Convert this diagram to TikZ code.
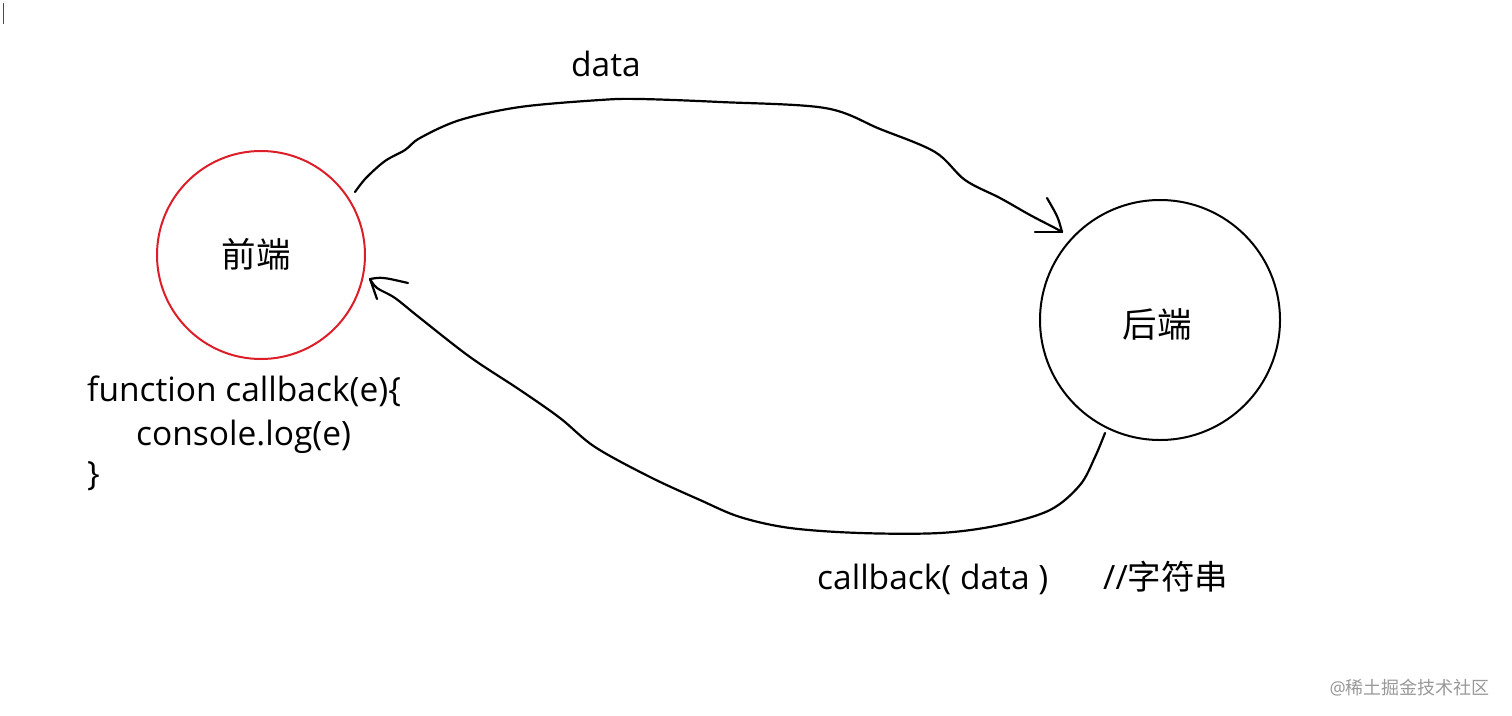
\documentclass[tikz,border=0pt]{standalone}
\usepackage{fontspec}
\setmainfont{Open Sans}
\newfontfamily\cjk{Noto Sans CJK SC}
\begin{document}
\begin{tikzpicture}[x=1pt,y=-1pt,
  stroke/.style={line width=2.2pt,line cap=round,line join=round},
  lbl/.style={inner sep=0pt,font=\fontsize{33.5}{40}\selectfont},
  cn/.style={inner sep=0pt,font=\cjk\fontsize{34.5}{40}\selectfont}]
\useasboundingbox[fill=white] (0,0) rectangle (1512,715);
\definecolor{redc}{RGB}{220,30,40}
% cursor mark
\draw[line width=1pt,black!70] (3,3) -- (3,24);
% nodes
\node[circle,draw=redc,line width=2pt,minimum size=208pt,inner sep=0pt] (fe) at (261,255) {};
\node[cn] (felbl) at (256,254) {前端};
\node[circle,draw=black,line width=2pt,minimum size=240pt,inner sep=0pt] (be) at (1160,320) {};
\node[cn] (belbl) at (1157,324) {后端};
% labels
\node[lbl,anchor=base] (data) at (606,76) {data};
\node[lbl,anchor=base west] (f1) at (87,401) {function callback(e)\{};
\node[lbl,anchor=base west] (f2) at (136,445) {console.log(e)};
\node[lbl,anchor=base west] (f3) at (87,485) {\}};
\node[lbl,anchor=base west] (cb) at (817,589) {callback( data )};
\node[anchor=base west,inner sep=0pt] (cm) at (1103,589) {\fontsize{33.5}{40}\selectfont //\cjk 字符串};
\node[anchor=base east,inner sep=0pt,text=black!40] (wm) at (1490,694) {\fontsize{18}{22}\selectfont @\cjk 稀土掘金技术社区};
% connector endpoints
\coordinate (s1) at (355,192);
\coordinate (e1) at (1062,232);
\coordinate (s2) at (1105,433);
\coordinate (e2) at (370,279);
% top connector: front-end -> back-end
\draw[stroke] plot[smooth,tension=0.55] coordinates {(s1) (366,178) (385,161) (405,150) (420,138) (460,120) (520,107) (600,100) (640,99) (720,102) (825,108) (880,129) (935,152) (965,180) (1000,198) (1030,215) (1055,228) (e1)};
\draw[stroke] (e1) -- +(-27,0);
\draw[stroke] (e1) .. controls +(-4,-15) .. +(-15,-34);
% bottom connector: back-end -> front-end
\draw[stroke] plot[smooth,tension=0.55] coordinates {(s2) (1095,457) (1080,485) (1050,510) (1000,525) (940,533) (860,533) (790,528) (740,517) (700,500) (650,477) (595,447) (560,418) (520,390) (470,357) (420,318) (395,298) (377,288) (e2)};
\draw[stroke] (e2) .. controls +(12,-2) .. +(38,4);
\draw[stroke] (e2) -- +(7,20);
\end{tikzpicture}
\end{document}
